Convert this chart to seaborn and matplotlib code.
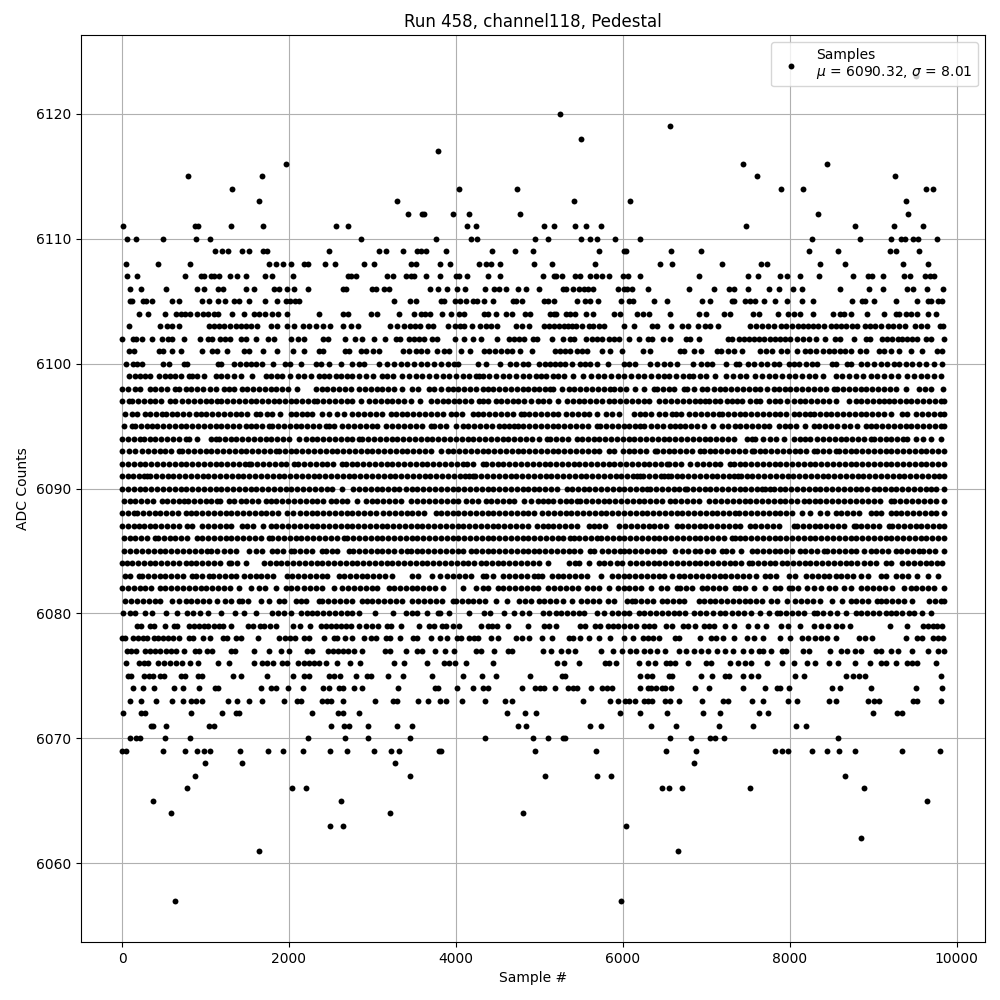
import pandas as pd
import seaborn as sns
import matplotlib.pyplot as plt

# sample numbers, one list per ADC level
s6123 = [9509]
s6120 = [5246]
s6119 = [6563]
s6118 = [5497]
s6117 = [3790]
s6116 = [1959, 7436, 8442]
s6115 = [786, 1672, 7604, 9268]
s6114 = [1313, 4038, 4736, 7891, 8166, 9639, 9723]
s6113 = [1636, 3300, 5413, 6084, 9400]
s6112 = [3431, 3591, 3623, 3970, 4161, 4772, 8346, 9423]
s6111 = [8, 870, 906, 1301, 1684, 2558, 2713, 4138, 4237, 5054, 5174, 5425, 5557, 5737, 7472, 8789, 9256, 9603]
s6110 = [60, 168, 487, 886, 1049, 2869, 3767, 4186, 4250, 4952, 5102, 5497, 5605, 5689, 5904, 6203, 8274, 8849, 9220, 9340, 9388, 9483, 9543, 9770]
s6109 = [1109, 1197, 1265, 1432, 1516, 1684, 1732, 2474, 3084, 3160, 3371, 3539, 3579, 3647, 3886, 4437, 4712, 4928, 5713, 6012, 6044, 6575, 6934, 8238, 8574, 9208, 9280, 9555]
s6108 = [48, 427, 810, 1756, 1839, 1923, 2019, 2175, 2234, 2426, 2546, 2905, 3020, 3467, 3527, 3814, 3934, 4281, 4365, 4425, 4533, 4940, 5150, 5665, 6443, 6587, 7185, 7652, 7724, 8370, 8669, 9364, 9663]
s6107 = [60, 176, 752, 940, 980, 1060, 1100, 1160, 1292, 1376, 1484, 1712, 1796, 2048, 2708, 2744, 2804, 3176, 3248, 3404, 3464, 3500, 3644, 3812, 4004, 4040, 4136, 4388, 4532, 5042, 5174, 5206, 5270, 5433, 5493, 5605, 5685, 5753, 5832, 6000, 6060, 6203, 6910, 7496, 7616, 7879, 7963, 8130, 8358, 8765, 8945, 8993, 9124, 9376, 9448, 9619, 9679, 9731]
s6106 = [92, 224, 524, 896, 980, 1148, 1208, 1484, 1580, 1820, 1880, 1972, 2060, 2228, 2648, 2684, 2996, 3044, 3140, 3200, 3692, 3788, 3896, 4016, 4112, 4352, 4460, 4520, 4604, 4748, 4844, 5000, 5282, 5318, 5401, 5473, 5533, 5581, 5641, 5940, 6020, 6052, 6108, 6299, 6790, 7089, 7269, 7329, 7496, 7748, 7867, 8035, 8154, 8609, 8957, 9124, 9412, 9483, 9651, 9843]
s6105 = [92, 124, 248, 284, 356, 596, 680, 956, 1040, 1148, 1232, 1340, 1400, 1520, 1712, 1856, 1964, 2012, 2072, 2124, 3260, 3452, 3524, 3824, 3860, 3992, 4052, 4124, 4208, 4252, 4340, 4448, 4688, 4724, 4796, 5062, 5102, 5182, 5449, 5545, 5605, 5701, 5976, 6072, 6124, 6371, 6527, 6946, 7041, 7305, 7337, 7460, 7520, 7580, 7688, 7819, 7963, 8143, 8286, 8753, 8873, 8909, 9017, 9276, 9531, 9663, 9699, 9783, 9831]
s6104 = [200, 308, 512, 644, 704, 752, 812, 896, 968, 1028, 1100, 1148, 1316, 1460, 1580, 1640, 1712, 1796, 1868, 1976, 2360, 2648, 2708, 2984, 3052, 3324, 3500, 3580, 3632, 3692, 3836, 3944, 4040, 4100, 4332, 4380, 4484, 4604, 4676, 4832, 4892, 5126, 5174, 5206, 5314, 5365, 5429, 5565, 5641, 5892, 5964, 6168, 6239, 6311, 6563, 6910, 6994, 7209, 7281, 7556, 7628, 7855, 7975, 8047, 8130, 8286, 8514, 8598, 8657, 8741, 8933, 9136, 9280, 9316, 9400, 9460, 9531, 9663, 9759]
s6103 = [80, 452, 540, 596, 680, 1040, 1100, 1160, 1220, 1292, 1364, 1424, 1484, 1544, 1616, 1784, 1856, 1976, 2060, 2168, 2240, 2324, 2408, 2492, 2648, 2744, 2828, 3212, 3296, 3380, 3452, 3512, 3572, 3668, 3728, 3908, 3992, 4052, 4100, 4196, 4292, 4364, 4424, 4496, 4724, 4796, 4880, 5052, 5112, 5172, 5232, 5292, 5340, 5392, 5436, 5508, 5592, 5640, 5712, 5772, 6012, 6132, 6348, 6408, 6576, 6708, 6780, 6904, 6984, 7044, 7140, 7524, 7596, 7668, 7740, 7812, 7896, 7956, 8028, 8100, 8160, 8220, 8280, 8340, 8412, 8492, 8556, 8616, 8676, 8748, 8808, 8904, 8964, 9024, 9096, 9180, 9240, 9312, 9384, 9504, 9576, 9648, 9804, 9844]
s6102 = [0, 128, 164, 236, 356, 476, 548, 596, 740, 932, 1028, 1076, 1172, 1232, 1292, 1424, 1484, 1604, 1748, 1820, 2024, 2108, 2180, 2408, 2468, 2672, 2792, 2876, 3020, 3152, 3280, 3332, 3440, 3500, 3560, 3620, 3716, 3776, 3992, 4100, 4208, 4304, 4492, 4640, 4700, 4760, 4820, 4928, 4976, 5152, 5280, 5364, 5412, 5556, 5628, 5688, 5748, 5832, 5892, 5952, 6072, 6192, 6300, 6352, 6480, 6564, 6756, 6804, 6912, 7260, 7308, 7392, 7452, 7512, 7572, 7632, 7692, 7764, 7824, 7884, 7944, 8004, 8088, 8160, 8232, 8316, 8424, 8544, 8604, 8772, 8916, 8964, 9108, 9168, 9228, 9300, 9348, 9408, 9468, 9528, 9636, 9696, 9849]
s6101 = [80, 140, 440, 488, 596, 704, 956, 1076, 1136, 1256, 1460, 1520, 1688, 1856, 2048, 2180, 2360, 2408, 2672, 2720, 2864, 2924, 3008, 3080, 3368, 3440, 3524, 3584, 3656, 3776, 3860, 3920, 4064, 4172, 4340, 4400, 4472, 4544, 4616, 4676, 4772, 4916, 5192, 5252, 5312, 5364, 5452, 5512, 5572, 5748, 5844, 5988, 6240, 6324, 6684, 6732, 6852, 6932, 7132, 7172, 7260, 7332, 7428, 7644, 7716, 7788, 7896, 7968, 8088, 8184, 8244, 8316, 8404, 8472, 8532, 8604, 8664, 8736, 8844, 8916, 9072, 9132, 9216, 9312, 9456, 9588, 9768, 9828]
s6100 = [44, 128, 180, 240, 488, 560, 740, 780, 1148, 1188, 1340, 1412, 1484, 1540, 1600, 1680, 1808, 1952, 2012, 2144, 2324, 2384, 2480, 2624, 2756, 2840, 2900, 3080, 3180, 3260, 3340, 3420, 3500, 3580, 3660, 3740, 3820, 3900, 3980, 4028, 4268, 4364, 4532, 4652, 4720, 4800, 4860, 4992, 5072, 5132, 5192, 5252, 5312, 5392, 5484, 5552, 5612, 5692, 5820, 6012, 6072, 6152, 6324, 6412, 6492, 6572, 6652, 6840, 6932, 7012, 7072, 7236, 7352, 7392, 7500, 7572, 7652, 7732, 7812, 7872, 7992, 8052, 8112, 8192, 8272, 8332, 8512, 8552, 8692, 8732, 8852, 8932, 9012, 9092, 9172, 9252, 9312, 9392, 9472, 9552, 9632, 9732, 9828]
s6099 = [80, 160, 220, 280, 340, 440, 520, 580, 640, 700, 800, 840, 900, 980, 1120, 1180, 1260, 1340, 1420, 1560, 1728, 1780, 1860, 1920, 2010, 2110, 2180, 2260, 2360, 2420, 2480, 2560, 2620, 2700, 2760, 2840, 2920, 3010, 3110, 3180, 3250, 3360, 3440, 3520, 3600, 3680, 3760, 3840, 3920, 4000, 4080, 4160, 4240, 4280, 4320, 4400, 4480, 4560, 4640, 4720, 4800, 4880, 4960, 5020, 5080, 5160, 5220, 5300, 5400, 5520, 5620, 5700, 5780, 5860, 5940, 6020, 6100, 6180, 6260, 6340, 6420, 6500, 6560, 6640, 6720, 6790, 6840, 6920, 7000, 7100, 7240, 7320, 7400, 7480, 7590, 7670, 7750, 7830, 7910, 7990, 8070, 8150, 8230, 8310, 8400, 8550, 8630, 8710, 8790, 8880, 8970, 9050, 9130, 9210, 9300, 9410, 9490, 9570, 9650, 9730, 9815]
s6098 = [0, 70, 150, 220, 330, 400, 470, 540, 640, 680, 760, 830, 900, 975, 1050, 1120, 1220, 1280, 1340, 1440, 1500, 1570, 1640, 1710, 1780, 1850, 1920, 1990, 2100, 2320, 2390, 2460, 2530, 2600, 2670, 2740, 2840, 2910, 2980, 3050, 3120, 3190, 3260, 3360, 3480, 3550, 3680, 3740, 3820, 3900, 3960, 4030, 4100, 4170, 4240, 4320, 4380, 4450, 4520, 4590, 4660, 4730, 4800, 4870, 4940, 5000, 5070, 5130, 5170, 5270, 5350, 5420, 5490, 5560, 5630, 5700, 5770, 5850, 5900, 5970, 6040, 6150, 6250, 6370, 6410, 6480, 6550, 6620, 6730, 6770, 6850, 6950, 7010, 7090, 7160, 7230, 7300, 7370, 7440, 7510, 7590, 7650, 7730, 7810, 7870, 7950, 8010, 8080, 8150, 8220, 8290, 8360, 8430, 8530, 8570, 8640, 8710, 8780, 8850, 8920, 8990, 9060, 9130, 9200, 9270, 9390, 9550, 9620, 9690, 9840]
s6097 = [0, 80, 120, 190, 260, 330, 400, 470, 580, 640, 720, 790, 860, 930, 1000, 1070, 1140, 1190, 1260, 1330, 1400, 1470, 1540, 1610, 1680, 1750, 1820, 1880, 1950, 2020, 2090, 2160, 2230, 2300, 2340, 2410, 2480, 2550, 2620, 2690, 2760, 2860, 2960, 3030, 3100, 3180, 3240, 3310, 3380, 3460, 3570, 3700, 3770, 3840, 3910, 3980, 4040, 4110, 4180, 4280, 4320, 4390, 4480, 4540, 4610, 4680, 4750, 4820, 4900, 4980, 5050, 5120, 5230, 5330, 5400, 5470, 5540, 5610, 5680, 5750, 5830, 5900, 5970, 6040, 6110, 6180, 6250, 6320, 6430, 6510, 6580, 6650, 6720, 6790, 6860, 6930, 6990, 7030, 7100, 7170, 7250, 7310, 7370, 7430, 7530, 7600, 7650, 7750, 7820, 7890, 7970, 8050, 8120, 8190, 8260, 8330, 8400, 8470, 8550, 8710, 8790, 8860, 8930, 9000, 9070, 9130, 9190, 9250, 9320, 9390, 9460, 9530, 9600, 9670, 9740, 9810, 9849]
s6096 = [40, 120, 180, 280, 340, 410, 480, 530, 600, 660, 730, 800, 880, 940, 1010, 1080, 1150, 1220, 1290, 1360, 1430, 1500, 1600, 1650, 1740, 1800, 1890, 2020, 2090, 2160, 2220, 2280, 2400, 2480, 2580, 2660, 2760, 2830, 2900, 2970, 3040, 3110, 3220, 3280, 3350, 3420, 3490, 3560, 3630, 3700, 3770, 3840, 3940, 4000, 4070, 4200, 4260, 4330, 4400, 4470, 4540, 4610, 4680, 4780, 4820, 4880, 4950, 5020, 5090, 5160, 5220, 5320, 5390, 5460, 5530, 5600, 5690, 5800, 5870, 5950, 6140, 6210, 6270, 6340, 6430, 6510, 6590, 6640, 6700, 6800, 6870, 6940, 7010, 7080, 7150, 7190, 7260, 7330, 7400, 7470, 7540, 7610, 7680, 7750, 7820, 7890, 7960, 8050, 8110, 8180, 8250, 8290, 8360, 8430, 8500, 8570, 8640, 8710, 8780, 8850, 8920, 8990, 9060, 9130, 9220, 9350, 9410, 9510, 9590, 9660, 9730, 9800, 9849]
s6095 = [20, 120, 160, 230, 300, 360, 420, 490, 560, 630, 700, 770, 840, 910, 980, 1050, 1120, 1190, 1260, 1330, 1400, 1480, 1540, 1610, 1680, 1760, 1800, 1870, 1940, 2010, 2080, 2150, 2220, 2290, 2360, 2440, 2480, 2540, 2640, 2710, 2780, 2850, 2920, 2990, 3060, 3160, 3230, 3310, 3380, 3450, 3520, 3590, 3700, 3740, 3810, 3880, 4000, 4080, 4150, 4220, 4290, 4360, 4430, 4520, 4580, 4640, 4700, 4740, 4810, 4880, 4950, 5020, 5090, 5160, 5230, 5300, 5370, 5440, 5510, 5580, 5690, 5730, 5800, 5870, 5940, 6010, 6080, 6150, 6210, 6260, 6340, 6410, 6480, 6570, 6630, 6690, 6750, 6820, 6890, 6970, 7080, 7190, 7260, 7340, 7410, 7480, 7550, 7620, 7690, 7750, 7870, 7940, 8010, 8080, 8190, 8290, 8350, 8420, 8490, 8570, 8650, 8720, 8810, 8910, 8970, 9040, 9110, 9180, 9250, 9320, 9390, 9460, 9530, 9600, 9670, 9740, 9810, 9849]
s6094 = [0, 70, 140, 220, 260, 330, 400, 470, 540, 610, 680, 760, 800, 900, 1060, 1120, 1160, 1230, 1300, 1370, 1440, 1510, 1580, 1650, 1720, 1790, 1860, 1930, 2000, 2120, 2200, 2270, 2340, 2410, 2480, 2550, 2620, 2690, 2760, 2840, 2880, 2950, 3020, 3090, 3160, 3230, 3300, 3370, 3440, 3510, 3580, 3650, 3720, 3790, 3860, 3930, 4000, 4070, 4140, 4210, 4280, 4350, 4420, 4490, 4560, 4630, 4700, 4770, 4840, 4910, 5000, 5090, 5130, 5200, 5270, 5340, 5450, 5510, 5580, 5650, 5720, 5790, 5860, 5930, 6000, 6070, 6140, 6210, 6280, 6350, 6420, 6490, 6560, 6630, 6700, 6770, 6840, 6910, 6980, 7050, 7120, 7190, 7260, 7330, 7490, 7550, 7590, 7680, 7770, 7840, 7930, 8050, 8120, 8190, 8250, 8330, 8400, 8470, 8540, 8610, 8680, 8750, 8820, 8890, 8970, 9010, 9080, 9150, 9220, 9290, 9360, 9410, 9510, 9600, 9690, 9820]
s6093 = [0, 80, 160, 240, 310, 380, 450, 520, 590, 680, 720, 790, 860, 930, 1000, 1070, 1140, 1210, 1280, 1350, 1420, 1490, 1560, 1630, 1700, 1770, 1840, 1880, 1950, 2020, 2090, 2160, 2230, 2300, 2370, 2440, 2510, 2580, 2650, 2720, 2790, 2860, 2930, 3000, 3070, 3140, 3210, 3280, 3360, 3420, 3490, 3560, 3630, 3700, 3820, 3900, 3970, 4040, 4110, 4180, 4250, 4320, 4390, 4460, 4530, 4600, 4670, 4740, 4810, 4880, 4950, 5020, 5090, 5160, 5230, 5300, 5370, 5440, 5510, 5580, 5650, 5720, 5830, 5900, 6000, 6070, 6140, 6210, 6280, 6390, 6410, 6480, 6550, 6620, 6690, 6760, 6830, 6930, 6970, 7040, 7110, 7180, 7250, 7320, 7390, 7460, 7550, 7570, 7640, 7710, 7780, 7850, 7920, 7990, 8060, 8130, 8200, 8290, 8330, 8400, 8470, 8550, 8590, 8660, 8730, 8800, 8870, 8940, 9010, 9080, 9150, 9220, 9290, 9360, 9430, 9500, 9570, 9640, 9710, 9780, 9849]
s6092 = [0, 70, 140, 210, 280, 350, 420, 490, 560, 630, 700, 770, 840, 910, 980, 1050, 1120, 1190, 1260, 1330, 1400, 1470, 1520, 1550, 1620, 1690, 1760, 1830, 1900, 1970, 2060, 2110, 2180, 2250, 2320, 2390, 2460, 2530, 2640, 2680, 2750, 2820, 2890, 2960, 3030, 3100, 3170, 3240, 3310, 3380, 3450, 3520, 3590, 3660, 3730, 3800, 3870, 3940, 4010, 4080, 4130, 4200, 4320, 4360, 4430, 4500, 4570, 4640, 4710, 4780, 4850, 4920, 5000, 5070, 5130, 5200, 5270, 5340, 5410, 5480, 5550, 5620, 5690, 5760, 5830, 5900, 5970, 6040, 6110, 6180, 6250, 6320, 6390, 6460, 6530, 6560, 6630, 6700, 6810, 6890, 6960, 7030, 7100, 7170, 7290, 7330, 7400, 7470, 7540, 7610, 7680, 7750, 7820, 7890, 7960, 8030, 8100, 8170, 8240, 8310, 8380, 8450, 8520, 8590, 8660, 8730, 8800, 8870, 8940, 9010, 9080, 9150, 9220, 9290, 9360, 9430, 9500, 9570, 9640, 9710, 9780, 9849]
s6091 = [0, 65, 130, 200, 260, 300, 335, 405, 475, 545, 615, 685, 755, 825, 895, 965, 1035, 1105, 1175, 1245, 1315, 1385, 1455, 1525, 1595, 1665, 1735, 1805, 1875, 1945, 2015, 2085, 2155, 2225, 2295, 2365, 2435, 2505, 2575, 2645, 2715, 2785, 2855, 2925, 2995, 3065, 3135, 3205, 3275, 3345, 3415, 3485, 3555, 3625, 3695, 3765, 3835, 3905, 3975, 4045, 4115, 4160, 4200, 4235, 4305, 4375, 4445, 4515, 4585, 4655, 4725, 4795, 4865, 4935, 5005, 5075, 5145, 5215, 5285, 5355, 5425, 5495, 5565, 5635, 5705, 5775, 5845, 5915, 5985, 6055, 6125, 6170, 6210, 6245, 6315, 6385, 6455, 6490, 6540, 6575, 6645, 6715, 6785, 6855, 6925, 6995, 7065, 7135, 7205, 7275, 7330, 7380, 7415, 7485, 7555, 7625, 7695, 7765, 7835, 7905, 7975, 8045, 8115, 8185, 8255, 8325, 8395, 8465, 8535, 8605, 8675, 8745, 8815, 8885, 8955, 9025, 9095, 9165, 9235, 9305, 9375, 9445, 9515, 9585, 9655, 9725, 9795, 9849]
s6090 = [0, 70, 140, 210, 280, 350, 420, 490, 560, 630, 700, 770, 840, 910, 980, 1050, 1120, 1190, 1260, 1330, 1400, 1470, 1540, 1610, 1680, 1750, 1820, 1890, 1960, 2030, 2100, 2170, 2240, 2310, 2380, 2450, 2520, 2640, 2770, 2840, 2910, 2980, 3050, 3120, 3190, 3260, 3320, 3400, 3470, 3540, 3610, 3680, 3750, 3820, 3890, 3960, 4030, 4100, 4170, 4240, 4310, 4380, 4450, 4520, 4590, 4660, 4730, 4800, 4870, 4940, 5000, 5070, 5140, 5210, 5330, 5390, 5460, 5530, 5600, 5670, 5740, 5810, 5880, 5950, 6020, 6090, 6160, 6230, 6290, 6330, 6400, 6470, 6540, 6610, 6680, 6750, 6770, 6840, 6910, 6980, 7050, 7120, 7190, 7260, 7330, 7400, 7470, 7540, 7610, 7670, 7710, 7770, 7810, 7880, 7950, 8020, 8090, 8160, 8230, 8300, 8370, 8440, 8510, 8580, 8650, 8720, 8790, 8860, 8930, 9010, 9070, 9140, 9210, 9280, 9350, 9420, 9490, 9560, 9630, 9690, 9750, 9849]
s6089 = [20, 90, 160, 230, 300, 370, 480, 540, 610, 680, 740, 790, 860, 930, 1000, 1070, 1140, 1170, 1280, 1340, 1420, 1490, 1560, 1630, 1720, 1780, 1850, 1920, 1990, 2060, 2130, 2200, 2270, 2340, 2410, 2500, 2560, 2630, 2700, 2820, 2920, 2990, 3060, 3130, 3200, 3270, 3340, 3460, 3540, 3610, 3680, 3750, 3820, 3890, 3960, 4020, 4120, 4190, 4260, 4360, 4420, 4490, 4560, 4640, 4700, 4820, 4900, 4980, 5050, 5110, 5170, 5250, 5320, 5380, 5450, 5490, 5560, 5630, 5700, 5770, 5840, 5910, 5980, 6050, 6120, 6190, 6260, 6330, 6400, 6470, 6570, 6630, 6700, 6770, 6840, 6910, 7030, 7110, 7180, 7250, 7320, 7390, 7460, 7530, 7600, 7670, 7740, 7810, 7880, 7950, 8020, 8090, 8170, 8230, 8300, 8370, 8440, 8510, 8580, 8650, 8720, 8790, 8870, 8940, 9010, 9080, 9210, 9250, 9320, 9390, 9470, 9540, 9610, 9680, 9750, 9849]
s6088 = [0, 70, 140, 180, 250, 320, 390, 460, 530, 600, 670, 760, 820, 890, 960, 1030, 1100, 1170, 1240, 1310, 1380, 1450, 1520, 1590, 1660, 1730, 1800, 1870, 1980, 2050, 2130, 2200, 2270, 2340, 2410, 2480, 2550, 2620, 2690, 2760, 2830, 2900, 2970, 3040, 3130, 3200, 3270, 3340, 3410, 3480, 3550, 3620, 3760, 3820, 3890, 3960, 4030, 4100, 4170, 4240, 4310, 4380, 4450, 4520, 4590, 4660, 4730, 4800, 4870, 4940, 5035, 5105, 5175, 5245, 5315, 5385, 5455, 5525, 5595, 5665, 5735, 5805, 5875, 5945, 6015, 6085, 6155, 6225, 6295, 6365, 6435, 6505, 6575, 6645, 6715, 6785, 6855, 6925, 6995, 7065, 7135, 7205, 7275, 7345, 7390, 7470, 7540, 7610, 7680, 7750, 7820, 7890, 7960, 8030, 8150, 8250, 8370, 8450, 8550, 8620, 8690, 8760, 8830, 8970, 9030, 9100, 9210, 9270, 9340, 9410, 9480, 9550, 9620, 9690, 9760, 9849]
s6087 = [0, 70, 140, 200, 260, 330, 400, 470, 540, 610, 680, 780, 840, 960, 1030, 1100, 1170, 1240, 1310, 1440, 1500, 1570, 1690, 1780, 1850, 1920, 1990, 2060, 2130, 2200, 2270, 2340, 2410, 2480, 2550, 2620, 2690, 2760, 2830, 2900, 2970, 3040, 3110, 3180, 3250, 3320, 3390, 3460, 3530, 3600, 3670, 3740, 3810, 3880, 3950, 4020, 4090, 4160, 4230, 4300, 4370, 4440, 4510, 4580, 4650, 4720, 4790, 4860, 4970, 5040, 5110, 5170, 5240, 5310, 5380, 5450, 5590, 5650, 5720, 5790, 5950, 6030, 6100, 6170, 6240, 6310, 6380, 6450, 6520, 6650, 6710, 6780, 6850, 6920, 6990, 7060, 7130, 7200, 7270, 7340, 7410, 7530, 7590, 7660, 7730, 7800, 7870, 8050, 8090, 8160, 8230, 8300, 8370, 8440, 8510, 8580, 8650, 8770, 8790, 8860, 8930, 9000, 9070, 9190, 9230, 9300, 9370, 9440, 9510, 9580, 9650, 9720, 9790, 9849]
s6086 = [20, 90, 160, 230, 300, 400, 430, 500, 570, 640, 710, 780, 900, 960, 1030, 1100, 1170, 1240, 1310, 1380, 1450, 1520, 1590, 1660, 1760, 1800, 1870, 1940, 2010, 2080, 2150, 2220, 2290, 2360, 2430, 2500, 2570, 2660, 2700, 2770, 2840, 2910, 2980, 3050, 3120, 3190, 3260, 3330, 3400, 3470, 3540, 3610, 3680, 3750, 3820, 3890, 3960, 4030, 4100, 4170, 4240, 4310, 4380, 4450, 4520, 4590, 4660, 4730, 4800, 4870, 4940, 5010, 5080, 5150, 5220, 5290, 5370, 5410, 5480, 5550, 5620, 5690, 5740, 5810, 5880, 5950, 6020, 6090, 6160, 6230, 6300, 6370, 6440, 6510, 6580, 6650, 6720, 6790, 6860, 6930, 7000, 7070, 7140, 7210, 7310, 7340, 7410, 7470, 7540, 7610, 7680, 7750, 7820, 7890, 7960, 8030, 8100, 8170, 8240, 8310, 8380, 8450, 8520, 8590, 8660, 8730, 8800, 8870, 8940, 9010, 9080, 9150, 9220, 9290, 9360, 9430, 9500, 9570, 9640, 9710, 9780, 9849]
s6085 = [20, 100, 170, 240, 310, 380, 450, 520, 590, 660, 730, 800, 870, 940, 1020, 1060, 1140, 1220, 1290, 1360, 1520, 1610, 1680, 1800, 1860, 1930, 2020, 2060, 2130, 2200, 2270, 2400, 2440, 2510, 2580, 2720, 2770, 2840, 2910, 2980, 3050, 3120, 3190, 3260, 3340, 3420, 3460, 3530, 3600, 3670, 3740, 3810, 3880, 3950, 4020, 4090, 4180, 4240, 4310, 4380, 4450, 4520, 4590, 4660, 4730, 4800, 4870, 4940, 5000, 5070, 5140, 5210, 5280, 5350, 5420, 5490, 5610, 5660, 5750, 5820, 5890, 5970, 6010, 6080, 6150, 6220, 6290, 6360, 6430, 6500, 6630, 6710, 6780, 6860, 6930, 7010, 7080, 7190, 7240, 7310, 7420, 7550, 7610, 7680, 7750, 7820, 7890, 7960, 8030, 8130, 8190, 8260, 8330, 8410, 8450, 8520, 8590, 8660, 8730, 8800, 8890, 8970, 9040, 9110, 9180, 9270, 9330, 9410, 9480, 9550, 9600, 9670, 9740, 9849]
s6084 = [0, 60, 120, 190, 260, 330, 400, 470, 540, 610, 680, 760, 820, 890, 960, 1030, 1100, 1170, 1280, 1310, 1380, 1480, 1700, 1770, 1840, 1910, 1980, 2050, 2120, 2190, 2260, 2330, 2400, 2470, 2540, 2610, 2680, 2750, 2820, 2890, 2960, 3030, 3100, 3170, 3240, 3310, 3380, 3450, 3520, 3590, 3660, 3730, 3800, 3870, 3940, 4010, 4080, 4150, 4220, 4300, 4360, 4430, 4500, 4570, 4640, 4710, 4780, 4850, 4920, 5000, 5110, 5350, 5430, 5470, 5590, 5710, 5780, 5850, 5930, 5990, 6090, 6160, 6230, 6300, 6370, 6440, 6510, 6580, 6650, 6720, 6790, 6860, 6930, 7000, 7070, 7140, 7210, 7280, 7350, 7420, 7510, 7550, 7620, 7690, 7770, 7830, 7910, 7970, 8040, 8110, 8180, 8250, 8320, 8390, 8460, 8530, 8600, 8670, 8730, 8810, 8890, 8960, 9030, 9150, 9220, 9350, 9420, 9490, 9560, 9630, 9700, 9770, 9830]
s6083 = [40, 100, 200, 240, 310, 380, 450, 520, 590, 660, 730, 840, 880, 960, 1040, 1090, 1160, 1230, 1300, 1370, 1460, 1530, 1600, 1670, 1740, 1810, 1980, 2040, 2110, 2180, 2250, 2320, 2390, 2460, 2600, 2660, 2730, 2800, 2870, 2940, 3010, 3080, 3150, 3240, 3480, 3550, 3720, 3810, 3890, 3970, 4040, 4110, 4180, 4320, 4360, 4450, 4560, 4640, 4710, 4780, 4850, 4940, 4980, 5030, 5150, 5220, 5290, 5360, 5430, 5500, 5570, 5740, 5870, 5940, 6010, 6080, 6150, 6220, 6290, 6360, 6430, 6500, 6590, 6670, 6740, 6810, 6880, 6950, 7020, 7090, 7160, 7230, 7300, 7370, 7440, 7510, 7600, 7700, 7770, 7840, 7990, 8060, 8200, 8270, 8340, 8410, 8470, 8550, 8620, 8690, 8760, 8860, 8940, 9090, 9160, 9280, 9350, 9420, 9530, 9660, 9780]
s6082 = [0, 70, 140, 210, 280, 350, 460, 520, 590, 660, 730, 800, 870, 940, 1010, 1080, 1150, 1220, 1290, 1400, 1550, 1640, 1710, 1840, 1960, 2030, 2100, 2180, 2250, 2320, 2390, 2540, 2640, 2710, 2780, 2850, 2920, 2990, 3060, 3200, 3260, 3330, 3400, 3470, 3540, 3610, 3680, 3750, 3840, 4090, 4240, 4320, 4390, 4500, 4570, 4640, 4710, 4780, 4850, 4920, 4980, 5110, 5180, 5250, 5320, 5390, 5460, 5570, 5640, 5710, 5840, 5940, 6010, 6080, 6150, 6220, 6340, 6460, 6530, 6650, 6690, 6760, 6830, 6950, 7010, 7080, 7150, 7220, 7350, 7390, 7460, 7570, 7710, 7830, 7890, 7990, 8030, 8100, 8210, 8290, 8380, 8470, 8540, 8650, 8730, 8860, 8930, 9000, 9070, 9140, 9230, 9370, 9450, 9520, 9590, 9660, 9730, 9849]
s6081 = [40, 110, 180, 250, 320, 390, 460, 600, 680, 760, 830, 900, 970, 1040, 1140, 1230, 1300, 1400, 1440, 1510, 1660, 1760, 1880, 1940, 2090, 2140, 2210, 2360, 2400, 2470, 2540, 2610, 2680, 2750, 2880, 2930, 3000, 3070, 3140, 3210, 3280, 3350, 3480, 3550, 3620, 3690, 3760, 3830, 3960, 4000, 4070, 4140, 4210, 4280, 4350, 4480, 4610, 4760, 4830, 4900, 5000, 5060, 5130, 5200, 5280, 5390, 5500, 5570, 5640, 5710, 5820, 5900, 6050, 6110, 6150, 6220, 6290, 6360, 6470, 6530, 6600, 6670, 6740, 6910, 6970, 7040, 7110, 7180, 7250, 7320, 7390, 7460, 7530, 7600, 7670, 7780, 7850, 7970, 8070, 8140, 8210, 8280, 8370, 8510, 8630, 8730, 8800, 8870, 8940, 9050, 9090, 9160, 9230, 9300, 9370, 9470, 9670, 9740, 9810, 9849]
s6080 = [10, 90, 160, 280, 360, 530, 660, 780, 850, 930, 1030, 1180, 1350, 1460, 1600, 1800, 1870, 1940, 2020, 2140, 2220, 2270, 2340, 2410, 2480, 2550, 2620, 2690, 2760, 2840, 3030, 3250, 3400, 3470, 3540, 3660, 3780, 3810, 3920, 4160, 4340, 4410, 4580, 4700, 4790, 4880, 5040, 5120, 5200, 5260, 5330, 5400, 5480, 5540, 5690, 5770, 5870, 5940, 6010, 6080, 6190, 6250, 6330, 6400, 6470, 6540, 6610, 6680, 6750, 6850, 6930, 7000, 7080, 7170, 7220, 7310, 7380, 7450, 7540, 7650, 7750, 7850, 7890, 7960, 8030, 8100, 8170, 8290, 8330, 8400, 8480, 8570, 8680, 8790, 8860, 8930, 9000, 9070, 9150, 9210, 9280, 9350, 9430, 9490, 9590, 9700]
s6079 = [176, 224, 340, 380, 512, 620, 656, 800, 860, 920, 980, 1028, 1100, 1160, 1208, 1304, 1508, 1572, 1652, 1700, 1772, 1844, 2048, 2132, 2252, 2384, 2444, 2504, 2564, 2624, 2684, 2744, 2840, 2924, 2996, 3068, 3176, 3224, 3344, 3560, 3680, 3740, 3836, 3884, 3968, 4040, 4304, 4388, 4436, 4496, 4628, 4868, 5052, 5112, 5196, 5484, 5544, 5664, 5724, 5820, 5880, 5940, 6012, 6084, 6156, 6252, 6312, 6372, 6516, 6588, 6720, 6780, 6864, 6972, 7032, 7092, 7224, 7332, 7500, 7608, 7716, 7896, 7980, 8124, 8292, 8376, 8460, 8556, 8628, 8724, 9204, 9408, 9600, 9660, 9720, 9768, 9828]
s6078 = [0, 32, 128, 188, 248, 300, 380, 428, 488, 548, 608, 680, 800, 848, 968, 1052, 1208, 1256, 1364, 1424, 1632, 1880, 1952, 2012, 2072, 2180, 2240, 2420, 2540, 2580, 2672, 2756, 2900, 2984, 3044, 3164, 3212, 3332, 3488, 3536, 3704, 3812, 3896, 4016, 4064, 4160, 4220, 4268, 4424, 4508, 4716, 4796, 4880, 5028, 5156, 5352, 5400, 5484, 5592, 5712, 5844, 6012, 6120, 6240, 6300, 6360, 6432, 6624, 6672, 6924, 7056, 7116, 7200, 7332, 7488, 7572, 7680, 7884, 8004, 8148, 8220, 8304, 8376, 8448, 8556, 8832, 8904, 8988, 9396, 9528, 9588, 9720, 9780, 9840]
s6077 = [56, 104, 164, 272, 340, 400, 460, 524, 584, 644, 740, 872, 920, 1016, 1076, 1304, 1352, 1580, 1760, 1904, 2000, 2216, 2276, 2468, 2528, 2588, 2648, 2708, 2780, 2876, 3152, 3212, 3404, 3536, 3596, 3752, 3872, 3980, 4244, 4304, 4460, 4628, 4676, 5040, 5136, 5256, 5340, 5424, 5736, 5880, 5988, 6084, 6156, 6252, 6324, 6408, 6504, 6672, 6756, 6852, 6936, 7020, 7128, 7224, 7320, 7440, 7536, 7632, 7680, 7776, 7908, 7956, 8160, 8232, 8484, 8616, 8688, 8784, 8856, 9036, 9096, 9216, 9300, 9468, 9660, 9780, 9849]
s6076 = [44, 200, 260, 308, 428, 500, 572, 644, 716, 812, 908, 1148, 1280, 1580, 1672, 1736, 1808, 1916, 1976, 2108, 2180, 2240, 2300, 2360, 2444, 2576, 2728, 2852, 3260, 3380, 3656, 3860, 3920, 3992, 4124, 4440, 5208, 5292, 5480, 5784, 5832, 5916, 6192, 6300, 6384, 6516, 6564, 6624, 6780, 6996, 7056, 7284, 7380, 7464, 7536, 7728, 7908, 8052, 8208, 8304, 8472, 8580, 8784, 8964, 9096, 9156, 9276, 9408, 9468, 9528, 9756]
s6075 = [72, 104, 260, 320, 368, 452, 500, 704, 752, 908, 956, 1328, 1424, 1736, 2048, 2180, 2240, 2480, 2540, 2612, 2804, 2936, 2984, 3188, 3368, 3716, 4088, 4316, 4484, 4892, 5276, 5304, 6204, 6292, 6348, 6552, 6588, 6936, 7068, 7224, 7272, 7440, 7536, 7620, 8060, 8172, 8676, 8760, 8832, 8904, 9816]
s6074 = [128, 248, 388, 620, 728, 920, 1112, 1148, 1664, 1784, 1844, 1988, 2172, 2408, 2480, 2600, 2648, 2780, 2876, 3308, 3752, 3788, 4016, 4208, 4328, 4388, 4796, 4952, 5012, 5060, 5184, 5340, 5400, 5448, 5616, 5748, 5808, 5872, 6204, 6300, 6336, 6396, 6468, 6504, 6580, 6864, 7032, 7440, 7704, 7848, 7884, 7992, 8508, 8604, 8976, 9516, 9828]
s6073 = [92, 224, 404, 596, 728, 824, 884, 956, 1268, 1376, 1520, 1676, 1940, 2096, 2144, 2396, 2456, 2504, 2648, 3032, 3248, 3296, 3548, 3668, 3812, 3884, 4076, 4352, 4592, 4676, 5520, 5844, 5940, 6024, 6072, 6144, 6252, 6300, 6348, 6504, 6564, 6672, 6948, 7200, 7260, 7548, 7680, 7980, 8088, 8472, 8556, 8940, 9012, 9072, 9480, 9528, 9816]
s6072 = [8, 224, 272, 824, 1196, 1364, 1400, 2276, 2588, 2648, 2840, 4616, 4832, 4964, 5964, 6204, 6528, 6960, 7164, 7632, 7740, 9000, 9288, 9348]
s6071 = [344, 368, 532, 1040, 1100, 2504, 2660, 2720, 2948, 3296, 3476, 4748, 4844, 5604, 5736, 6336, 6636, 7152, 7560, 8076, 8196]
s6070 = [92, 164, 212, 512, 812, 2228, 2672, 2948, 3452, 4352, 4928, 5100, 5280, 5304, 6564, 6816, 7044, 7104, 7212, 8580]
s6069 = [4, 44, 488, 752, 896, 980, 1052, 1412, 1748, 1928, 2168, 2492, 2696, 3020, 3224, 3320, 3800, 3824, 4952, 5676, 6516, 6876, 7824, 7908, 7980, 8268, 8448, 8592, 8784, 9348, 9804]
s6068 = [992, 1436, 3272, 6852]
s6067 = [872, 3452, 5064, 5688, 5856, 8664]
s6066 = [776, 2036, 2204, 6468, 6552, 6708, 7524, 8892]
s6065 = [368, 2624, 9648]
s6064 = [584, 3212, 4808]
s6063 = [2492, 2648, 6036]
s6062 = [8856]
s6061 = [1640, 6660]
s6057 = [632, 5976]

levels = [6123, 6120, 6119, 6118, 6117, 6116, 6115, 6114, 6113, 6112, 6111, 6110, 6109, 6108, 6107, 6106, 6105, 6104, 6103, 6102, 6101, 6100, 6099, 6098, 6097, 6096, 6095, 6094, 6093, 6092, 6091, 6090, 6089, 6088, 6087, 6086, 6085, 6084, 6083, 6082, 6081, 6080, 6079, 6078, 6077, 6076, 6075, 6074, 6073, 6072, 6071, 6070, 6069, 6068, 6067, 6066, 6065, 6064, 6063, 6062, 6061, 6057]
rows = [s6123, s6120, s6119, s6118, s6117, s6116, s6115, s6114, s6113, s6112, s6111, s6110, s6109, s6108, s6107, s6106, s6105, s6104, s6103, s6102, s6101, s6100, s6099, s6098, s6097, s6096, s6095, s6094, s6093, s6092, s6091, s6090, s6089, s6088, s6087, s6086, s6085, s6084, s6083, s6082, s6081, s6080, s6079, s6078, s6077, s6076, s6075, s6074, s6073, s6072, s6071, s6070, s6069, s6068, s6067, s6066, s6065, s6064, s6063, s6062, s6061, s6057]

df_list = []
for lvl, row in zip(levels, rows):
    df_list.append(pd.DataFrame({"sample": row, "adc": lvl}))
df = pd.concat(df_list)

fig, ax = plt.subplots(figsize=(10, 10))
sns.scatterplot(data=df, x="sample", y="adc", color='k', s=18, linewidth=0, zorder=2, ax=ax,
                label="Samples\n$\\mu$ = 6090.32, $\\sigma$ = 8.01")
ax.margins(0.05)
ax.grid(True)
ax.set_xlabel("Sample #")
ax.set_ylabel("ADC Counts")
ax.set_title("Run 458, channel118, Pedestal")
ax.legend(loc='upper right')
fig.subplots_adjust(left=0.081, right=0.985, top=0.965, bottom=0.058)
plt.savefig('out.png', dpi=100)
plt.close()
